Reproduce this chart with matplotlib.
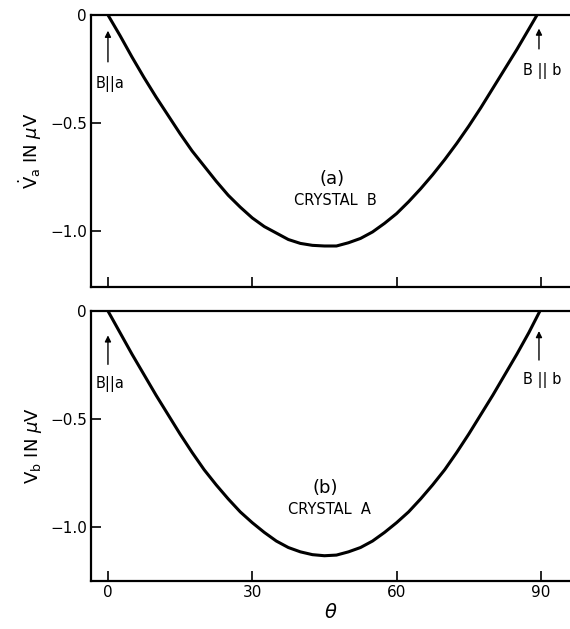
import matplotlib
matplotlib.use("Agg")
import matplotlib.pyplot as plt

# data
theta_a = [0, 2.5, 5, 7.5, 10, 12.5, 15, 17.5, 20, 22.5, 25, 27.5, 30, 32.5, 35, 37.5,
           40, 42.5, 45, 47.5, 50, 52.5, 55, 57.5, 60, 62.5, 65, 67.5, 70, 72.5, 75,
           77.5, 80, 82.5, 85, 87.5, 89.2]
va = [0, -0.095, -0.195, -0.29, -0.38, -0.465, -0.55, -0.63, -0.70, -0.77, -0.835,
      -0.89, -0.94, -0.98, -1.01, -1.04, -1.058, -1.067, -1.07, -1.07, -1.055, -1.035,
      -1.005, -0.965, -0.92, -0.865, -0.805, -0.74, -0.67, -0.595, -0.515, -0.43,
      -0.34, -0.25, -0.16, -0.065, 0]
theta_b = [0, 2.5, 5, 7.5, 10, 12.5, 15, 17.5, 20, 22.5, 25, 27.5, 30, 32.5, 35, 37.5,
           40, 42.5, 45, 47.5, 50, 52.5, 55, 57.5, 60, 62.5, 65, 67.5, 70, 72.5, 75,
           77.5, 80, 82.5, 85, 87.5, 89.8]
vb = [0, -0.10, -0.20, -0.295, -0.39, -0.48, -0.57, -0.655, -0.735, -0.805, -0.87,
      -0.93, -0.98, -1.025, -1.065, -1.095, -1.115, -1.128, -1.133, -1.13, -1.115,
      -1.095, -1.065, -1.025, -0.98, -0.93, -0.87, -0.805, -0.735, -0.655, -0.57,
      -0.48, -0.39, -0.295, -0.20, -0.10, 0]
xticks = [0, 30, 60, 90]
yticks = [0, -0.5, -1.0]
ytick_labels = ["0", "−0.5", "−1.0"]

fig = plt.figure(figsize=(5.7, 6.29), dpi=100)
ax1 = fig.add_axes([0.1596, 0.5437, 0.8404, 0.4325])
ax2 = fig.add_axes([0.1596, 0.0763, 0.8404, 0.4293])

panels = [
    (ax1, theta_a, va, -1.26, r"$\dot{\mathrm{V}}_{\mathrm{a}}$ IN $\mu$V", "(a)", "CRYSTAL  B",
     (46.5, -0.76), (47.2, -0.857), (-0.06, -0.23, -0.32), (-0.05, -0.17, -0.26)),
    (ax2, theta_b, vb, -1.25, r"$\mathrm{V}_{\mathrm{b}}$ IN $\mu$V", "(b)", "CRYSTAL  A",
     (45.1, -0.82), (46.0, -0.92), (-0.10, -0.26, -0.34), (-0.08, -0.24, -0.32)),
]

for ax, th, v, ymin, ylab, lab1, lab2, p1, p2, arr_a, arr_b in panels:
    ax.plot(th, v, color="black", lw=2.2, solid_capstyle="round", solid_joinstyle="round")
    ax.set_xlim(-3.53, 96.05)
    ax.set_ylim(ymin, 0)
    ax.spines["right"].set_visible(False)
    for s in ["left", "top", "bottom"]:
        ax.spines[s].set_linewidth(1.6)
    ax.set_xticks(xticks)
    ax.set_yticks(yticks)
    ax.set_yticklabels(ytick_labels)
    ax.tick_params(direction="in", length=7, width=1.2, labelsize=11, pad=3)
    ax.set_ylabel(ylab, fontsize=13, labelpad=4)
    ax.text(p1[0], p1[1], lab1, ha="center", va="center", fontsize=13)
    ax.text(p2[0], p2[1], lab2, ha="center", va="center", fontsize=10.5)
    # arrows
    ax.annotate("", xy=(0, arr_a[0]), xytext=(0, arr_a[1]),
                arrowprops=dict(arrowstyle="-|>", color="black", lw=1.0, mutation_scale=9))
    ax.text(0.5, arr_a[2], "B||a", ha="center", va="center", fontsize=10.5)
    ax.annotate("", xy=(89.6, arr_b[0]), xytext=(89.6, arr_b[1]),
                arrowprops=dict(arrowstyle="-|>", color="black", lw=1.0, mutation_scale=9))
    ax.text(90.2, arr_b[2], "B || b", ha="center", va="center", fontsize=10.5)

ax1.set_xticklabels([])
ax2.set_xticklabels([str(t) for t in xticks])
ax2.set_xlabel(r"$\theta$", fontsize=14, labelpad=2)

fig.savefig("out.png", dpi=100)
